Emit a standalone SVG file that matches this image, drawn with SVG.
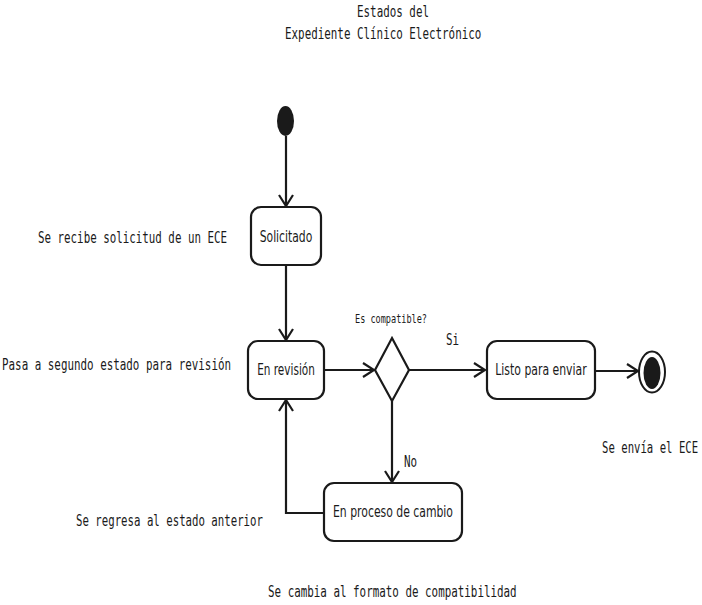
<svg xmlns="http://www.w3.org/2000/svg" width="702" height="605" viewBox="0 0 702 605">
<style>
.mono{font-family:"DejaVu Sans Mono","Liberation Mono",monospace;font-size:15px;fill:#1a1a1a}
.small{font-size:12px}
.lbl{font-family:"DejaVu Sans","Liberation Sans",sans-serif;font-size:15px;fill:#1a1a1a;text-anchor:middle}
.box{fill:#fff;stroke:#1a1a1a;stroke-width:2.2}
.con{fill:none;stroke:#1a1a1a;stroke-width:2.2}
</style>
<defs>
<marker id="arr" viewBox="-14 -8 16 16" refX="0" refY="0" markerWidth="16" markerHeight="16" markerUnits="userSpaceOnUse" orient="auto">
<path d="M-11,-7 L0,0 L-11,7" fill="none" stroke="#1a1a1a" stroke-width="2.2"/>
</marker>
</defs>
<rect width="702" height="605" fill="#fff"/>
<g id="title">
<text class="mono" transform="translate(357,17) scale(0.725,1)">Estados del</text>
<text class="mono" transform="translate(285,38.5) scale(0.725,1)">Expediente Clínico Electrónico</text>
</g>
<g id="connectors">
<line class="con" x1="286" y1="136" x2="286" y2="206" marker-end="url(#arr)"/>
<line class="con" x1="286" y1="265" x2="286" y2="340" marker-end="url(#arr)"/>
<line class="con" x1="324" y1="370" x2="374" y2="370" marker-end="url(#arr)"/>
<line class="con" x1="409" y1="370" x2="485" y2="370" marker-end="url(#arr)"/>
<line class="con" x1="595" y1="371" x2="638" y2="371" marker-end="url(#arr)"/>
<line class="con" x1="392" y1="401" x2="392" y2="482" marker-end="url(#arr)"/>
<path class="con" d="M324,513 H286 V400" marker-end="url(#arr)"/>
</g>
<g id="start">
<ellipse cx="285.5" cy="121" rx="8.5" ry="15" fill="#1a1a1a"/>
</g>
<g id="solicitado">
<rect class="box" x="251" y="207" width="70" height="58" rx="10"/>
<text class="lbl" transform="translate(286,242) scale(0.72,1)">Solicitado</text>
</g>
<g id="revision">
<rect class="box" x="248" y="341" width="76" height="58" rx="10"/>
<text class="lbl" transform="translate(286,375) scale(0.7,1)">En revisión</text>
</g>
<g id="decision">
<polygon class="box" points="392,338 409,370 392,401 375,370"/>
<text class="mono small" transform="translate(355,322.5) scale(0.713,1)">Es compatible?</text>
</g>
<g id="listo">
<rect class="box" x="487" y="341" width="108" height="58" rx="10"/>
<text class="lbl" transform="translate(541,375) scale(0.725,1)">Listo para enviar</text>
</g>
<g id="cambio">
<rect class="box" x="324" y="483" width="138" height="58" rx="10"/>
<text class="lbl" transform="translate(393,517) scale(0.724,1)">En proceso de cambio</text>
</g>
<g id="end">
<ellipse cx="652" cy="372" rx="13" ry="20.5" fill="#fff" stroke="#1a1a1a" stroke-width="2"/>
<ellipse cx="652" cy="373" rx="8.5" ry="16" fill="#1a1a1a"/>
</g>
<g id="notes">
<text class="mono" transform="translate(38,242.5) scale(0.722,1)">Se recibe solicitud de un ECE</text>
<text class="mono" transform="translate(2,370) scale(0.725,1)">Pasa a segundo estado para revisión</text>
<text class="mono" transform="translate(446,345) scale(0.725,1)">Si</text>
<text class="mono" transform="translate(602,453) scale(0.71,1)">Se envía el ECE</text>
<text class="mono" transform="translate(404,467) scale(0.725,1)">No</text>
<text class="mono" transform="translate(76,526) scale(0.715,1)">Se regresa al estado anterior</text>
<text class="mono" transform="translate(268,597) scale(0.725,1)">Se cambia al formato de compatibilidad</text>
</g>
</svg>
